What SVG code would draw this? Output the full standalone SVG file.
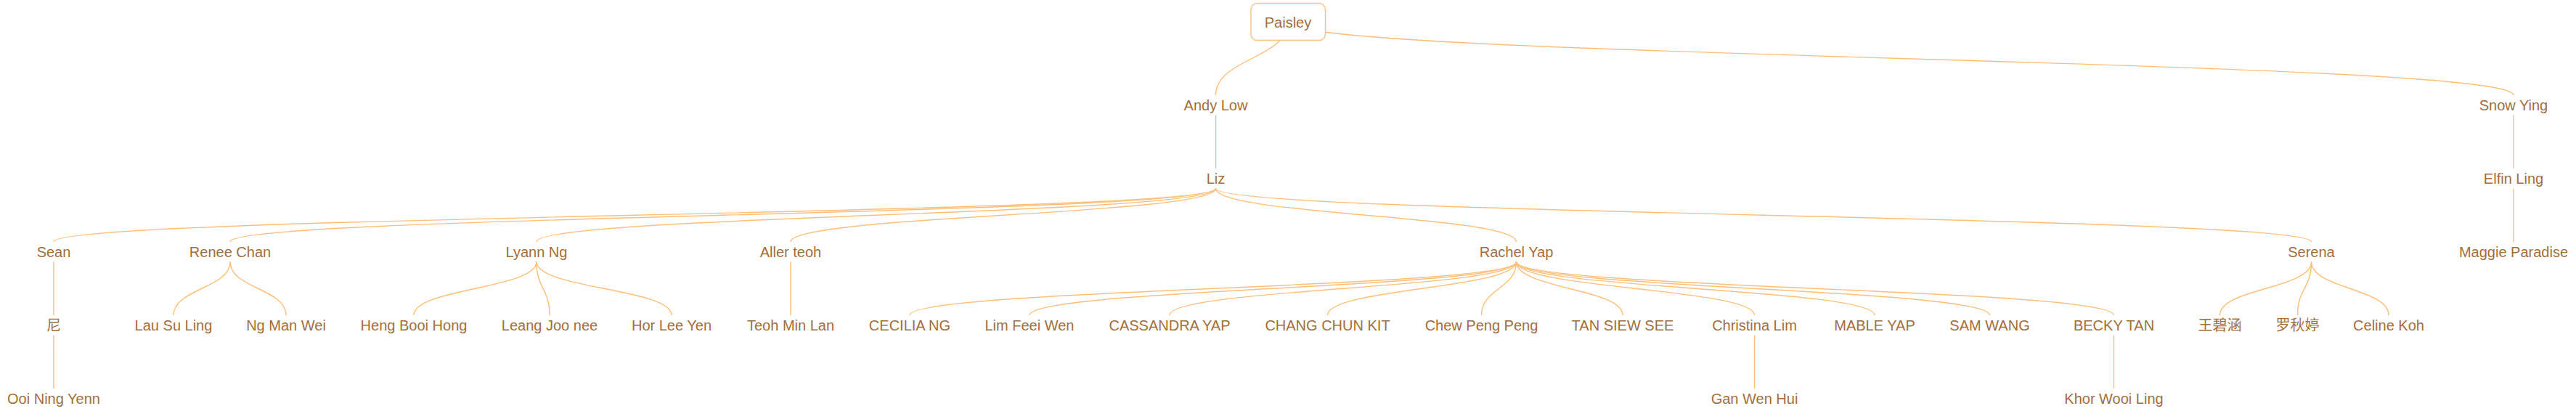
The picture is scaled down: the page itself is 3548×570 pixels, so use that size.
<svg xmlns="http://www.w3.org/2000/svg" width="3548" height="570" viewBox="0 0 3548 570">
<style>
.link{fill:none;stroke:#FFBE78;stroke-width:1.4}
.lbl{font-family:"Liberation Sans",Arial,"Noto Sans CJK SC",sans-serif;font-size:20px;fill:#A26E3C;text-anchor:middle}
.root{fill:#ffffff;stroke:#FFC485;stroke-width:1.5}
</style>
<rect width="3548" height="570" fill="#ffffff"/>
<g id="connectors">
<path class="link" d="M1774 30C1774 80.5,1674.5 80.5,1674.5 131"/>
<path class="link" d="M1774 30C1774 80.5,3462 80.5,3462 131"/>
<path class="link" d="M1674.5 158.5L1674.5 232"/>
<path class="link" d="M3462 158.5L3462 232"/>
<path class="link" d="M1674.5 259.5C1674.5 296.25,74 296.25,74 333"/>
<path class="link" d="M1674.5 259.5C1674.5 296.25,317 296.25,317 333"/>
<path class="link" d="M1674.5 259.5C1674.5 296.25,739 296.25,739 333"/>
<path class="link" d="M1674.5 259.5C1674.5 296.25,1089 296.25,1089 333"/>
<path class="link" d="M1674.5 259.5C1674.5 296.25,2088.5 296.25,2088.5 333"/>
<path class="link" d="M1674.5 259.5C1674.5 296.25,3183.5 296.25,3183.5 333"/>
<path class="link" d="M3462 259.5L3462 333"/>
<path class="link" d="M74 360.5L74 434"/>
<path class="link" d="M317 360.5C317 397.25,239 397.25,239 434"/>
<path class="link" d="M317 360.5C317 397.25,394 397.25,394 434"/>
<path class="link" d="M739 360.5C739 397.25,570 397.25,570 434"/>
<path class="link" d="M739 360.5C739 397.25,757 397.25,757 434"/>
<path class="link" d="M739 360.5C739 397.25,925 397.25,925 434"/>
<path class="link" d="M1089 360.5L1089 434"/>
<path class="link" d="M2088.5 360.5C2088.5 397.25,1253 397.25,1253 434"/>
<path class="link" d="M2088.5 360.5C2088.5 397.25,1418 397.25,1418 434"/>
<path class="link" d="M2088.5 360.5C2088.5 397.25,1611 397.25,1611 434"/>
<path class="link" d="M2088.5 360.5C2088.5 397.25,1828.5 397.25,1828.5 434"/>
<path class="link" d="M2088.5 360.5C2088.5 397.25,2040.5 397.25,2040.5 434"/>
<path class="link" d="M2088.5 360.5C2088.5 397.25,2235 397.25,2235 434"/>
<path class="link" d="M2088.5 360.5C2088.5 397.25,2416.5 397.25,2416.5 434"/>
<path class="link" d="M2088.5 360.5C2088.5 397.25,2582 397.25,2582 434"/>
<path class="link" d="M2088.5 360.5C2088.5 397.25,2740.5 397.25,2740.5 434"/>
<path class="link" d="M2088.5 360.5C2088.5 397.25,2911.5 397.25,2911.5 434"/>
<path class="link" d="M3183.5 360.5C3183.5 397.25,3057.5 397.25,3057.5 434"/>
<path class="link" d="M3183.5 360.5C3183.5 397.25,3164.5 397.25,3164.5 434"/>
<path class="link" d="M3183.5 360.5C3183.5 397.25,3290 397.25,3290 434"/>
<path class="link" d="M74 461.5L74 535"/>
<path class="link" d="M2416.5 461.5L2416.5 535"/>
<path class="link" d="M2911.5 461.5L2911.5 535"/>
</g>
<g id="n-paisley"><rect class="root" x="1723" y="4.5" width="102.5" height="51" rx="8.5"/><text class="lbl" x="1774" y="38">Paisley</text></g>
<g id="n-andy-low"><text class="lbl" x="1674.5" y="152">Andy Low</text></g>
<g id="n-snow-ying"><text class="lbl" x="3462" y="152">Snow Ying</text></g>
<g id="n-liz"><text class="lbl" x="1674.5" y="253">Liz</text></g>
<g id="n-elfin-ling"><text class="lbl" x="3462" y="253">Elfin Ling</text></g>
<g id="n-sean"><text class="lbl" x="74" y="354">Sean</text></g>
<g id="n-renee-chan"><text class="lbl" x="317" y="354">Renee Chan</text></g>
<g id="n-lyann-ng"><text class="lbl" x="739" y="354">Lyann Ng</text></g>
<g id="n-aller-teoh"><text class="lbl" x="1089" y="354">Aller teoh</text></g>
<g id="n-rachel-yap"><text class="lbl" x="2088.5" y="354">Rachel Yap</text></g>
<g id="n-serena"><text class="lbl" x="3183.5" y="354">Serena</text></g>
<g id="n-maggie-paradise"><text class="lbl" x="3462" y="354">Maggie Paradise</text></g>
<g id="n-ni"><text class="lbl" x="74" y="455">尼</text></g>
<g id="n-lau-su-ling"><text class="lbl" x="239" y="455">Lau Su Ling</text></g>
<g id="n-ng-man-wei"><text class="lbl" x="394" y="455">Ng Man Wei</text></g>
<g id="n-heng-booi-hong"><text class="lbl" x="570" y="455">Heng Booi Hong</text></g>
<g id="n-leang-joo-nee"><text class="lbl" x="757" y="455">Leang Joo nee</text></g>
<g id="n-hor-lee-yen"><text class="lbl" x="925" y="455">Hor Lee Yen</text></g>
<g id="n-teoh-min-lan"><text class="lbl" x="1089" y="455">Teoh Min Lan</text></g>
<g id="n-cecilia-ng"><text class="lbl" x="1253" y="455">CECILIA NG</text></g>
<g id="n-lim-feei-wen"><text class="lbl" x="1418" y="455">Lim Feei Wen</text></g>
<g id="n-cassandra-yap"><text class="lbl" x="1611" y="455">CASSANDRA YAP</text></g>
<g id="n-chang-chun-kit"><text class="lbl" x="1828.5" y="455">CHANG CHUN KIT</text></g>
<g id="n-chew-peng-peng"><text class="lbl" x="2040.5" y="455">Chew Peng Peng</text></g>
<g id="n-tan-siew-see"><text class="lbl" x="2235" y="455">TAN SIEW SEE</text></g>
<g id="n-christina-lim"><text class="lbl" x="2416.5" y="455">Christina Lim</text></g>
<g id="n-mable-yap"><text class="lbl" x="2582" y="455">MABLE YAP</text></g>
<g id="n-sam-wang"><text class="lbl" x="2740.5" y="455">SAM WANG</text></g>
<g id="n-becky-tan"><text class="lbl" x="2911.5" y="455">BECKY TAN</text></g>
<g id="n-wang-bi-han"><text class="lbl" x="3057.5" y="455">王碧涵</text></g>
<g id="n-luo-qiu-ting"><text class="lbl" x="3164.5" y="455">罗秋婷</text></g>
<g id="n-celine-koh"><text class="lbl" x="3290" y="455">Celine Koh</text></g>
<g id="n-ooi-ning-yenn"><text class="lbl" x="74" y="556">Ooi Ning Yenn</text></g>
<g id="n-gan-wen-hui"><text class="lbl" x="2416.5" y="556">Gan Wen Hui</text></g>
<g id="n-khor-wooi-ling"><text class="lbl" x="2911.5" y="556">Khor Wooi Ling</text></g>
</svg>
